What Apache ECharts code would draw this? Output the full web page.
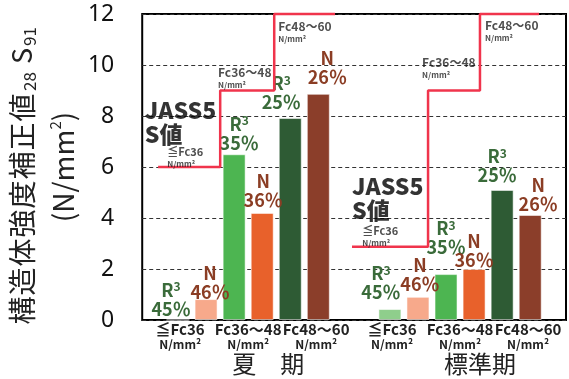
<!DOCTYPE html>
<html><head><meta charset="utf-8">
<script src="https://cdn.jsdelivr.net/npm/echarts@6/dist/echarts.min.js"></script>
<style>html,body{margin:0;padding:0;background:#fff}#c{width:569px;height:379px}</style>
</head><body><div id="c"></div>
<script>
// ---- data ----
const seasons = ['夏期', '標準期'];
const seasonLabels = ['夏　期', '標準期'];
const strengthClasses = ['≦Fc36', 'Fc36～48', 'Fc48～60'];
const unitLabel = 'N/mm²';
const r3Summer = [0.0, 6.5, 7.92];
const nSummer = [0.82, 4.2, 8.87];
const r3Standard = [0.43, 1.8, 5.1];
const nStandard = [0.91, 2.0, 4.12];
const r3Rates = ['45％', '35％', '25％'];
const nRates = ['46％', '36％', '26％'];
const jassSummer = [6, 9, 12, 12];
const jassStandard = [2.87, 9, 12, 12];
const jassSummerX = [0.075, 0.368, 0.623, 0.91];
const jassStandardX = [0.99, 1.349, 1.594, 1.873];
const yMin = 0, yMax = 12, yStep = 2;
const yTitleChars = ['構', '造', '体', '強', '度', '補', '正', '値'];

// ---- styles ----
const FONT = '"Noto Sans CJK JP", "Noto Sans", sans-serif';
const r3Colors = ['#8fce8c', '#4db551', '#2e5b34'];
const nColors = ['#f7a98b', '#e8612b', '#8b3e2a'];
const GREEN_TXT = '#3a6b3a', BROWN_TXT = '#8b3d24', RED = '#f0344c';
// label shifts [dx, dy] per series per season
const r3Shift = [[[-7, -1], [-9, -7]], [[5, -2], [0, -17]], [[-9, -6], [-5, -5]]];
const nShift = [[[4, 3], [2, -3]], [[1, -3], [0, 1]], [[9, -7], [8, -1]]];

const barLabelRich = {
  r: {fontSize: 18, fontWeight: 'bold', color: GREEN_TXT, fontFamily: FONT, lineHeight: 19},
  sup: {fontSize: 12, fontWeight: 'bold', color: GREEN_TXT, fontFamily: FONT, verticalAlign: 'top', lineHeight: 19},
  n: {fontSize: 18, fontWeight: 'bold', color: BROWN_TXT, fontFamily: FONT, lineHeight: 19},
  pg: {fontSize: 18, fontWeight: 'bold', color: GREEN_TXT, fontFamily: FONT, lineHeight: 19},
  pb: {fontSize: 18, fontWeight: 'bold', color: BROWN_TXT, fontFamily: FONT, lineHeight: 19}
};

function barSeries(kind, k) {
  const isR = kind === 'R';
  const vals = isR ? [r3Summer[k], r3Standard[k]] : [nSummer[k], nStandard[k]];
  const shifts = isR ? r3Shift[k] : nShift[k];
  const rate = isR ? r3Rates[k] : nRates[k];
  return {
    type: 'bar', name: (isR ? 'R³ ' : 'N ') + strengthClasses[k],
    barWidth: 23, barGap: '22%',
    itemStyle: {color: isR ? r3Colors[k] : nColors[k], borderColor: 'rgba(255,255,255,0.55)', borderWidth: 1},
    data: vals.map((v, s) => ({
      value: v,
      label: {
        show: true, position: 'top', distance: 0, offset: shifts[s],
        formatter: isR ? '{r|R}{sup|3}\n{pg|' + rate + '}' : '{n|N}\n{pb|' + rate + '}',
        rich: barLabelRich, align: 'center'
      }
    }))
  };
}

const series = [];
for (let k = 0; k < 3; k++) { series.push(barSeries('R', k)); series.push(barSeries('N', k)); }

function stepSeries(xs, ys) {
  return {
    type: 'line', xAxisIndex: 1, yAxisIndex: 0, step: 'end', symbol: 'none', clip: false, z: 10,
    lineStyle: {color: RED, width: 2.5},
    data: xs.map((x, i) => [x, ys[i]])
  };
}
series.push(stepSeries(jassSummerX, jassSummer));
series.push(stepSeries(jassStandardX, jassStandard));

// annotations anchored at data coordinates (top-left of text)
const annoRich = {
  big: {fontSize: 23, fontWeight: 900, color: '#000', fontFamily: FONT, lineHeight: 24},
  fb: {fontSize: 11, fontWeight: 'bold', color: '#222', fontFamily: FONT, lineHeight: 13},
  fn: {fontSize: 12, fontWeight: 'bold', color: '#222', fontFamily: FONT, lineHeight: 13},
  u: {fontSize: 8, fontWeight: 'bold', color: '#222', fontFamily: FONT, lineHeight: 11}
};
const annoPoints = [
  [0.012, 8.7, '{big|JASS5}\n{big|S値}'],
  [0.118, 6.86, '{fb|' + strengthClasses[0] + '}\n{u|' + unitLabel + '}'],
  [0.358, 9.96, '{fn|' + strengthClasses[1] + '}\n{u|' + unitLabel + '}'],
  [0.642, 11.76, '{fn|' + strengthClasses[2] + '}\n{u|' + unitLabel + '}'],
  [0.99, 5.72, '{big|JASS5}\n{big|S値}'],
  [1.038, 3.76, '{fb|' + strengthClasses[0] + '}\n{u|' + unitLabel + '}'],
  [1.321, 10.35, '{fn|' + strengthClasses[1] + '}\n{u|' + unitLabel + '}'],
  [1.618, 11.8, '{fn|' + strengthClasses[2] + '}\n{u|' + unitLabel + '}']
];
series.push({
  type: 'scatter', xAxisIndex: 1, yAxisIndex: 0, symbolSize: 0, clip: false, z: 11, silent: true,
  data: annoPoints.map(p => ({
    value: [p[0], p[1]],
    label: {show: true, position: [0, 0], align: 'left', verticalAlign: 'top', formatter: p[2], rich: annoRich}
  }))
});

const yName = yTitleChars.map(c => '{c|' + c + '}').join('') + '{sb|28}{t| S}{sb|91}{pad| }\n{t2|(N/mm}{sp|2}{t2|)}';

const chart = echarts.init(document.getElementById('c'), null, {renderer: 'canvas'});
chart.setOption({
  animation: false,
  grid: {left: 142, right: 3, top: 14, bottom: 59, show: true, borderColor: '#000', borderWidth: 2, backgroundColor: 'transparent'},
  xAxis: [{
    type: 'category', data: seasons,
    axisLine: {show: false}, axisTick: {show: false},
    axisLabel: {
      margin: 2, interval: 0,
      formatter: function (v, i) {
        return strengthClasses.map(s => '{f|' + s + '}').join('') + '\n' +
          strengthClasses.map(() => '{u|' + unitLabel + '}').join('') + '\n' +
          '{g| }{s|' + seasonLabels[i] + '}';
      },
      rich: {
        f: {width: 68, align: 'center', fontSize: 15, fontWeight: 'bold', color: '#222', fontFamily: FONT, lineHeight: 15},
        u: {width: 68, align: 'center', fontSize: 12, fontWeight: 'bold', color: '#222', fontFamily: FONT, lineHeight: 15},
        g: {width: 40, fontSize: 10, lineHeight: 24},
        s: {fontSize: 24, color: '#222', fontFamily: FONT, lineHeight: 24}
      }
    }
  }, {
    type: 'value', min: 0, max: 2, show: false
  }],
  yAxis: {
    type: 'value', min: yMin, max: yMax, interval: yStep,
    axisLine: {show: false}, axisTick: {show: false},
    axisLabel: {fontSize: 23, color: '#111', margin: 28, fontFamily: '"Noto Sans", sans-serif'},
    splitLine: {show: true, lineStyle: {color: '#333', type: [4, 3], width: 1.2}},
    name: yName,
    nameLocation: 'middle', nameRotate: 90, nameGap: 58,
    nameTextStyle: {
      rich: {
        c: {fontSize: 28, width: 29, align: 'center', color: '#222', fontFamily: FONT, lineHeight: 41},
        t: {fontSize: 27, color: '#222', fontFamily: FONT, lineHeight: 41},
        t2: {fontSize: 28, color: '#222', fontFamily: FONT, lineHeight: 41},
        pad: {width: 16, fontSize: 10, lineHeight: 41},
        sb: {fontSize: 17, color: '#222', fontFamily: FONT, lineHeight: 41, verticalAlign: 'bottom', padding: [0, 2, 4, 2]},
        sp: {fontSize: 15, color: '#222', fontFamily: FONT, lineHeight: 41, verticalAlign: 'top', padding: [5, 0, 0, 0]}
      }
    }
  },
  series: series
});
</script></body></html>
